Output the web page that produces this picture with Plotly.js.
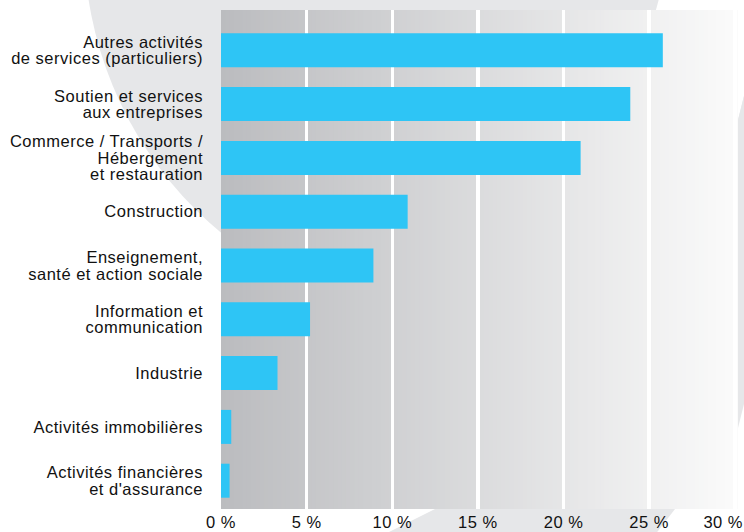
<!DOCTYPE html>
<html><head><meta charset="utf-8">
<script src="https://cdn.plot.ly/plotly-3.0.1.min.js"></script>
<style>
html,body{margin:0;padding:0;background:#fff;}
#chart{width:744px;height:532px;}
#chart text{letter-spacing:0.5px;}
</style></head><body><div id="chart"></div>
<script>
// ---- data ----
const categories = [
  "Autres activités<br>de services (particuliers)",
  "Soutien et services<br>aux entreprises",
  "Commerce / Transports /<br>Hébergement<br>et restauration",
  "Construction",
  "Enseignement,<br>santé et action sociale",
  "Information et<br>communication",
  "Industrie",
  "Activités immobilières",
  "Activités financières<br>et d'assurance"
];
const shares = [25.8, 23.9, 21.0, 10.9, 8.9, 5.2, 3.3, 0.6, 0.5];
const xTickVals = [0, 5, 10, 15, 20, 25, 30];
const xTickText = ["0 %", "5 %", "10 %", "15 %", "20 %", "25 %", "30 %"];

// ---- geometry / style ----
const W = 744, H = 532, ML = 221, MR = 6, MT = 10, MB = 23;
const PW = W - ML - MR, PH = H - MT - MB;
const px = x => (x - ML) / PW;
const py = y => (H - MB - y) / PH;
const deco = '#e6e7e9';
const fontFam = '"Liberation Sans", Arial, Helvetica, sans-serif';
const textColor = '#111111';

function poly(pts, color) {
  const d = pts.map((p, i) => (i ? 'L' : 'M') + px(p[0]).toFixed(4) + ',' + py(p[1]).toFixed(4)).join(' ') + ' Z';
  return {type: 'path', xref: 'paper', yref: 'paper', path: d, fillcolor: color, line: {width: 0}, layer: 'below'};
}

const shapes = [];
shapes.push({type: 'circle', xref: 'paper', yref: 'paper',
  x0: px(84), x1: px(842), y0: py(320), y1: py(-438),
  fillcolor: deco, line: {width: 0}, layer: 'below'});
shapes.push(poly([[664, -20], [773, -20], [643, 500], [524, 500]], '#ffffff'));
shapes.push(poly([[773, -20], [850, -20], [720, 500], [643, 500]], deco));
shapes.push(poly([[453, 500], [682, 500], [651, 540], [373, 540]], deco));

const c0 = [187, 188, 191], c1 = [251, 251, 251];
const N = 120;
for (let i = 0; i < N; i++) {
  const t = (i + 0.5) / N;
  const c = c0.map((v, k) => Math.round(v + (c1[k] - v) * t));
  shapes.push({type: 'rect', xref: 'paper', yref: 'paper',
    x0: i / N, x1: Math.min(1, (i + 1) / N + 0.003), y0: 0, y1: 1,
    fillcolor: 'rgb(' + c.join(',') + ')', line: {width: 0}, layer: 'below'});
}

const trace = {
  type: 'bar', orientation: 'h',
  x: shares, y: categories,
  marker: {color: '#2ec5f5', line: {width: 0}},
  width: 0.632,
  hoverinfo: 'skip'
};

const layout = {
  width: W, height: H,
  margin: {l: ML, r: MR, t: MT, b: MB, pad: 0},
  paper_bgcolor: '#ffffff',
  plot_bgcolor: 'rgba(0,0,0,0)',
  showlegend: false,
  font: {family: fontFam, size: 16.5, color: textColor},
  xaxis: {
    range: [0, 30.19], tickvals: xTickVals, ticktext: xTickText,
    showgrid: true, gridcolor: '#ffffff', gridwidth: 3.5,
    zeroline: false, showline: false, ticks: '',
    ticklabelstandoff: 1, ticklabeloverflow: 'allow',
    tickfont: {family: fontFam, size: 16.5, color: textColor},
    fixedrange: true
  },
  yaxis: {
    type: 'category', categoryorder: 'array', categoryarray: categories,
    range: [8.526, -0.749],
    showgrid: false, zeroline: false, showline: false, ticks: '',
    ticklabelstandoff: 17,
    tickfont: {family: fontFam, size: 16.5, color: textColor},
    fixedrange: true
  },
  shapes: shapes
};

// tighter line spacing for multi-line category labels (reference uses ~1.0em)
const LINE_FACTOR = 0.78;
function adjustText() {
  document.querySelectorAll('#chart .ytick text').forEach(t => {
    const lines = t.querySelectorAll('tspan.line');
    if (lines.length < 2) return;
    const b0 = t.getBBox();
    const mid0 = b0.y + b0.height / 2;
    lines.forEach(l => {
      const dy = l.getAttribute('dy');
      if (!dy) return;
      const v = parseFloat(dy);
      if (dy.indexOf('em') >= 0) l.setAttribute('dy', (v * LINE_FACTOR) + 'em');
      else l.setAttribute('dy', v * LINE_FACTOR);
    });
    const b1 = t.getBBox();
    const mid1 = b1.y + b1.height / 2;
    const shift = mid0 - mid1;
    const tr = t.getAttribute('transform') || '';
    t.setAttribute('transform', tr + ' translate(0,' + shift.toFixed(2) + ')');
  });
  // keep the last x tick label inside the page
  document.querySelectorAll('#chart .xtick text').forEach(t => {
    const r = t.getBoundingClientRect();
    const over = r.right - (W - 1);
    if (over > 0) {
      const tr = t.getAttribute('transform') || '';
      t.setAttribute('transform', tr + ' translate(' + (-over).toFixed(2) + ',0)');
    }
  });
}

Plotly.newPlot('chart', [trace], layout, {displayModeBar: false, staticPlot: true}).then(adjustText);
</script></body></html>
